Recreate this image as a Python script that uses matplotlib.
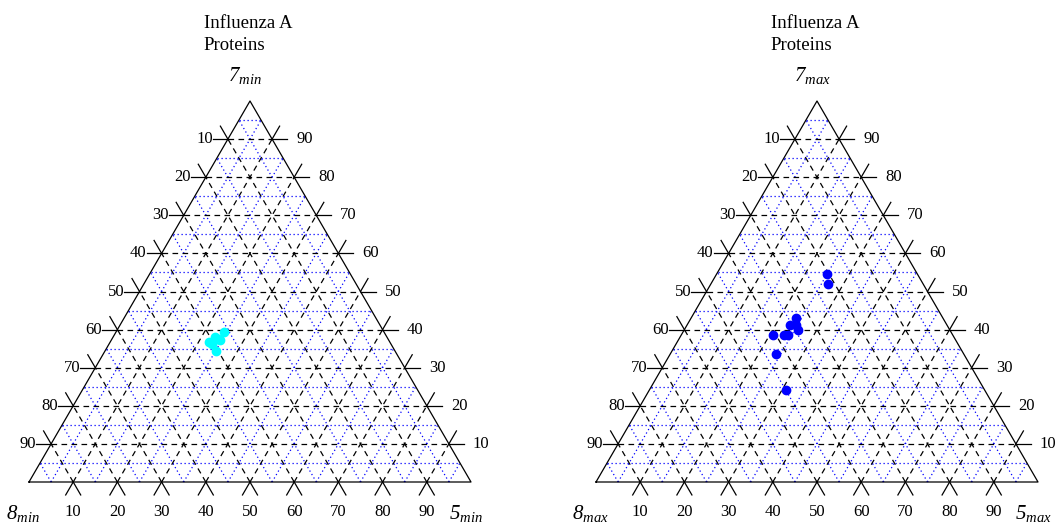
import numpy as np
import matplotlib.pyplot as plt

plt.rcParams['font.family'] = ['Liberation Serif', 'DejaVu Serif']
plt.rcParams['mathtext.fontset'] = 'custom'
plt.rcParams['mathtext.rm'] = 'Liberation Serif:italic'
plt.rcParams['mathtext.it'] = 'Liberation Serif:italic'

# composition (%) of each protein: components 7, 5 and 8
min_p7 = [39.4, 38.1, 37.5, 36.7, 34.5, 36.2, 37.2]
min_p5 = [24.4, 23.0, 24.1, 22.4, 25.1, 23.4, 24.6]
min_p8 = [36.2, 38.9, 38.4, 40.9, 40.4, 40.4, 38.2]

max_p7 = [54.7, 52.0, 43.1, 41.1, 41.1, 39.8, 38.7, 38.5, 38.5, 33.7, 24.2]
max_p5 = [24.9, 26.4, 23.6, 23.4, 24.7, 25.9, 24.2, 23.2, 20.7, 23.9, 30.9]
max_p8 = [20.4, 21.6, 33.3, 35.5, 34.2, 34.3, 37.1, 38.3, 40.8, 42.4, 44.9]

tick_vals = [10, 20, 30, 40, 50, 60, 70, 80, 90]
title_lines = ["Influenza A", "Proteins"]

H = np.sqrt(3) / 2
PX = 1 / 441.0          # one pixel in triangle units
L = 15 * PX             # tick length


def to_xy(a, b, c):
    a, b, c = np.asarray(a, float), np.asarray(b, float), np.asarray(c, float)
    s = a + b + c
    a, b = a / s, b / s
    return b + a / 2, a * H


def seg(ax, x0, y0, x1, y1, **kw):
    ax.plot([x0, x1], [y0, y1], clip_on=False, **kw)


def ternary(ax, p7, p5, p8, color, suffix):
    ax.set_xlim(0, 1)
    ax.set_ylim(0, H)
    ax.axis('off')

    dash = dict(color='black', lw=0.9, ls=(0, (4.5, 3.5)))
    dots = dict(color='blue', lw=0.9, ls=(0, (1, 2.2)))

    # grid: fine blue dotted at 5, 15, ... and black dashed at 10, 20, ...
    for v, style in [(v / 100, dots) for v in range(5, 100, 10)] + \
                    [(v / 100, dash) for v in tick_vals]:
        seg(ax, v / 2, v * H, 1 - v / 2, v * H, **style)
        seg(ax, v, 0, v + (1 - v) / 2, (1 - v) * H, **style)
        seg(ax, 1 - v, 0, (1 - v) / 2, (1 - v) * H, **style)

    # outline
    ax.plot([0, 1, 0.5, 0], [0, 0, H, 0], color='black', lw=0.9, clip_on=False)

    tk = dict(color='black', lw=0.9)
    ux, uy = 0.5, H
    for t in tick_vals:
        a = t / 100
        # left edge
        xl, yl = a / 2, a * H
        seg(ax, xl - L, yl, xl, yl, **tk)
        seg(ax, xl, yl, xl - ux * L, yl + uy * L, **tk)
        ax.text(xl - L, yl, str(100 - t), ha='right', va='center', fontsize=12)
        # right edge
        xr = 1 - a / 2
        seg(ax, xr, yl, xr + L, yl, **tk)
        seg(ax, xr, yl, xr + ux * L, yl + uy * L, **tk)
        ax.text(xr + L + 9 * PX, yl, str(t), ha='left', va='center', fontsize=12)
        # bottom edge
        seg(ax, a, 0, a - ux * L, -uy * L, **tk)
        seg(ax, a, 0, a + ux * L, -uy * L, **tk)
        ax.text(a, -30 * PX, str(t), ha='center', va='center', fontsize=12)

    # vertex names
    ax.text(0.5 - 5 * PX, H + 26 * PX, r'$7_{%s}$' % suffix,
            ha='center', va='center', fontsize=15)
    ax.text(-6 * PX, -32 * PX, r'$8_{%s}$' % suffix,
            ha='center', va='center', fontsize=15)
    ax.text(1 - 5 * PX, -32 * PX, r'$5_{%s}$' % suffix,
            ha='center', va='center', fontsize=15)

    ax.text(0.5 - 46 * PX, H + 78 * PX, title_lines[0], ha='left', va='center', fontsize=13.5)
    ax.text(0.5 - 46 * PX, H + 56 * PX, title_lines[1], ha='left', va='center', fontsize=13.5)

    x, y = to_xy(p7, p5, p8)
    ax.plot(x, y, 'o', color=color, ms=6, mec=color, clip_on=False, zorder=5)


W, Hfig = 1057, 526
fig = plt.figure(figsize=(W / 100, Hfig / 100), dpi=100)
ax1 = fig.add_axes([29 / W, 44 / Hfig, 442 / W, 381 / Hfig])
ax2 = fig.add_axes([596 / W, 44 / Hfig, 442 / W, 381 / Hfig])

ternary(ax1, min_p7, min_p5, min_p8, 'cyan', 'min')
ternary(ax2, max_p7, max_p5, max_p8, 'blue', 'max')

fig.savefig('out.png', dpi=100)
